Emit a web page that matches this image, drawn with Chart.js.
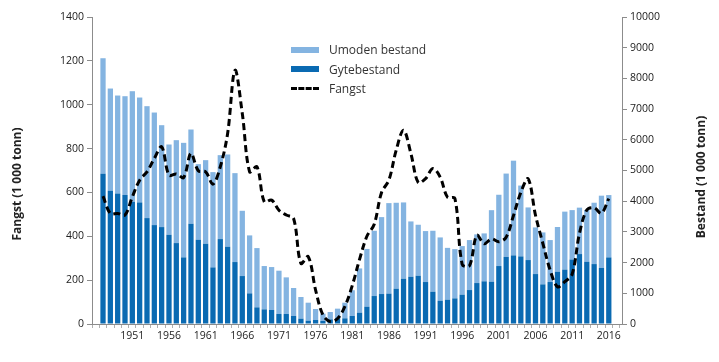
<!DOCTYPE html>
<html>
<head>
<meta charset="utf-8">
<script src="https://cdn.jsdelivr.net/npm/chart.js@4.4.1/dist/chart.umd.min.js"></script>
<style>
    body { margin: 0; background: #fff; }
    #wrap { position: relative; width: 719px; height: 362px; }
    #legend { position: absolute; left: 291px; top: 40px; font-family: "Open Sans", sans-serif; font-size: 12px; color: #333; }
    .row { display: flex; align-items: center; height: 19.5px; }
    .swatch { width: 28px; height: 6px; margin-right: 10px; }
    .dash { width: 28px; height: 0; border-top: 3px dashed #000; margin-right: 10px; }
</style>
</head>
<body>
<div id="wrap">
    <canvas id="myChart" width="719" height="362"></canvas>
    <div id="legend">
        <div class="row"><div class="swatch" style="background:#84b4e1"></div>Umoden bestand</div>
        <div class="row"><div class="swatch" style="background:#0a6ab2"></div>Gytebestand</div>
        <div class="row"><div class="dash"></div>Fangst</div>
    </div>
</div>
<script>
const years = [];
for (let y = 1947; y <= 2016; y++) years.push(y);

// Gytebestand (1 000 tonn), right axis
const gytebestand = [
    4892, 4339, 4252, 4198, 3981, 3960, 3450, 3222, 3157, 2907,
    2636, 2170, 3265, 2745, 2614, 1844, 2766, 2517, 2018, 1562,
    998, 542, 477, 456, 325, 325, 260, 174, 108, 130,
    98, 152, 185, 185, 260, 369, 564, 911, 976, 990,
    1150, 1475, 1540, 1573, 1367, 1052, 759, 792, 835, 955,
    1106, 1334, 1390, 1378, 1888, 2185, 2235, 2202, 2083, 1627,
    1291, 1367, 1703, 1772, 2100, 2278, 2028, 1952, 1828, 2169
];

// Umoden bestand (1 000 tonn), stacked on top
const umodenBestand = [
    3765, 3331, 3190, 3222, 3602, 3417, 3645, 3666, 3319, 2940,
    3352, 3731, 3070, 2462, 2723, 3103, 2734, 3005, 2896, 2126,
    1888, 1931, 1411, 1399, 1411, 1194, 912, 705, 586, 358,
    238, 238, 315, 509, 840, 1441, 1881, 2126, 2506, 2948,
    2799, 2485, 1801, 1660, 1660, 1985, 2061, 1688, 1605, 1583,
    1628, 1586, 1561, 2330, 2322, 2715, 3085, 2308, 1714, 1519,
    1692, 1367, 1457, 1888, 1610, 1512, 1682, 1998, 2352, 2031
];

// Fangst (1 000 tonn), left axis
const fangst = [
    583, 504, 504, 497, 580, 656, 694, 755, 808, 679,
    684, 668, 778, 699, 694, 638, 717, 869, 1157, 960,
    694, 717, 557, 565, 519, 497, 481, 276, 307, 155,
    41, 11, 25, 80, 175, 295, 400, 455, 600, 656,
    793, 884, 778, 645, 663, 709, 670, 578, 573, 272,
    266, 405, 366, 388, 375, 396, 495, 600, 662, 496,
    368, 246, 170, 193, 227, 413, 520, 530, 505, 572
];

const xTickLabels = [1951, 1956, 1961, 1966, 1971, 1976, 1981, 1986, 1991, 1996, 2001, 2006, 2011, 2016];

function toPoints(values) {
    return years.map((year, i) => ({ x: year, y: values[i] }));
}

const tickFont = { family: 'Open Sans', size: 10.5 };
const axisColor = '#8c8c8c';

// vertical axis titles, drawn a bit lower than the scale centre like the original
const axisTitles = {
    id: 'axisTitles',
    afterDraw(chart) {
        let c = chart.ctx;
        c.save();
        c.fillStyle = '#222';
        c.font = 'bold 12px "Open Sans"';
        c.textAlign = 'center';
        c.textBaseline = 'middle';
        c.translate(18, 184);
        c.rotate(-Math.PI / 2);
        c.fillText('Fangst (1 000 tonn)', 0, 0);
        c.restore();
        c.save();
        c.fillStyle = '#222';
        c.font = 'bold 12px "Open Sans"';
        c.textAlign = 'center';
        c.textBaseline = 'middle';
        c.translate(702, 177);
        c.rotate(-Math.PI / 2);
        c.fillText('Bestand (1 000 tonn)', 0, 0);
        c.restore();
    }
};

let ctx = document.getElementById('myChart').getContext('2d');
let myChart = new Chart(ctx, {
    type: 'bar',
    data: {
        datasets: [
            {
                type: 'line',
                label: 'Fangst',
                data: toPoints(fangst),
                yAxisID: 'y',
                borderColor: '#000',
                borderWidth: 3,
                borderDash: [7, 4],
                pointRadius: 0,
                tension: 0.35,
                fill: false,
                order: 0
            },
            {
                label: 'Gytebestand',
                data: toPoints(gytebestand),
                yAxisID: 'y2',
                backgroundColor: '#0a6ab2',
                barPercentage: 0.72,
                categoryPercentage: 1,
                order: 1
            },
            {
                label: 'Umoden bestand',
                data: toPoints(umodenBestand),
                yAxisID: 'y2',
                backgroundColor: '#84b4e1',
                barPercentage: 0.72,
                categoryPercentage: 1,
                order: 2
            }
        ]
    },
    options: {
        responsive: false,
        animation: false,
        layout: { padding: { top: 17, left: 0, right: 0, bottom: 0 } },
        plugins: {
            legend: { display: false },
            tooltip: { enabled: false }
        },
        scales: {
            x: {
                type: 'linear',
                stacked: true,
                min: 1946,
                max: 2017.3,
                afterFit: scale => { scale.height = 38; },
                border: { color: axisColor, width: 1 },
                grid: { drawOnChartArea: false, drawTicks: true, tickLength: 4, color: '#b0b0b0' },
                ticks: {
                    stepSize: 1,
                    autoSkip: false,
                    includeBounds: false,
                    maxRotation: 0,
                    padding: 2,
                    color: '#222',
                    font: tickFont,
                    callback: value => xTickLabels.includes(value) ? String(value) : ''
                }
            },
            y: {
                position: 'left',
                min: 0,
                max: 1400,
                afterFit: scale => { scale.width = 92; },
                border: { color: axisColor, width: 1 },
                grid: { drawOnChartArea: false, drawTicks: true, tickLength: 5, color: axisColor },
                ticks: { stepSize: 200, padding: 3, color: '#222', font: tickFont, callback: value => String(value) }
            },
            y2: {
                position: 'right',
                stacked: true,
                min: 0,
                max: 10000,
                afterFit: scale => { scale.width = 97; },
                border: { color: axisColor, width: 1 },
                grid: { drawOnChartArea: false, drawTicks: true, tickLength: 5, color: axisColor },
                ticks: { stepSize: 1000, padding: 3, color: '#222', font: tickFont, callback: value => String(value) }
            }
        }
    },
    plugins: [axisTitles]
});
</script>
</body>
</html>
